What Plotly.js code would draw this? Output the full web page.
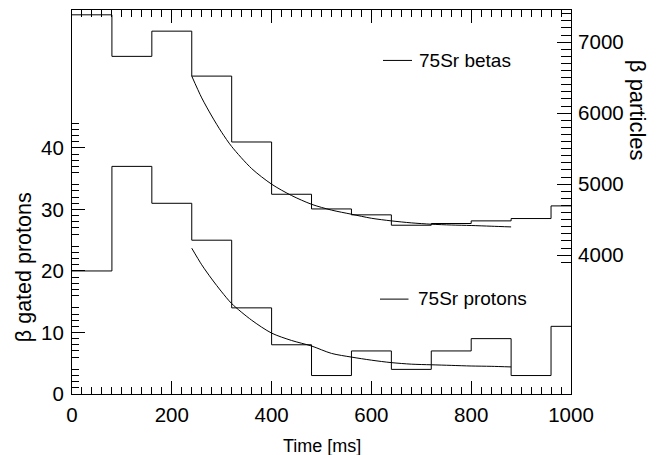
<!DOCTYPE html>
<html>
<head>
<meta charset="utf-8">
<script src="https://cdn.plot.ly/plotly-3.0.1.min.js"></script>
<style>html,body{margin:0;padding:0;background:#fff;}#chart{width:662px;height:455px;}</style>
</head>
<body>
<div id="chart"></div>
<script>
// ---- data ----
const binStarts = [0, 80, 160, 240, 320, 400, 480, 560, 640, 720, 800, 880, 960];
const binWidth = 80;
const protonCounts = [20, 37, 31, 25, 14, 8, 3, 7, 4, 7, 9, 3, 11];
const betaCounts = [7385, 6800, 7155, 6522, 5594, 4858, 4651, 4568, 4422, 4446, 4483, 4516, 4694];

const fitTimes = [240, 260, 280, 300, 320, 360, 400, 440, 480, 520, 560, 600, 640, 680, 720, 760, 800, 840, 880];
const protonFit = [23.7, 21.0, 18.7, 16.6, 14.7, 12.0, 9.9, 8.7, 7.8, 6.6, 6.0, 5.5, 5.1, 4.85, 4.75, 4.65, 4.55, 4.5, 4.4];
const betaFit = [6522, 6215, 5960, 5730, 5530, 5220, 5000, 4840, 4717, 4635, 4577, 4520, 4483, 4455, 4436, 4425, 4418, 4408, 4398];

const xTickVals = [0, 200, 400, 600, 800, 1000];
const leftTickVals = [0, 10, 20, 30, 40];
const rightTickVals = [4000, 5000, 6000, 7000];

const xTitle = 'Time [ms]';
const leftTitle = 'β gated protons';
const rightTitle = 'β particles';
const betaLabel = '75Sr betas';
const protonLabel = '75Sr protons';

// ---- build step outlines from bins ----
function steps(counts) {
  const xs = binStarts.concat([binStarts[binStarts.length - 1] + binWidth]);
  const ys = counts.concat([counts[counts.length - 1]]);
  return {x: xs, y: ys};
}
const pSteps = steps(protonCounts);
const bSteps = steps(betaCounts);

function range(a, b, s, skip) {
  const out = [];
  for (let v = a; v <= b + 1e-9; v += s) {
    if (!skip || Math.abs(v % skip) > 1e-9) out.push(v);
  }
  return out;
}

const FONT = 'Liberation Sans, Arial, Helvetica, sans-serif';

const traces = [
  {x: pSteps.x, y: pSteps.y, type: 'scatter', mode: 'lines', line: {shape: 'hv', color: '#000', width: 1}, xaxis: 'x', yaxis: 'y', name: 'protons hist', hoverinfo: 'skip'},
  {x: bSteps.x, y: bSteps.y, type: 'scatter', mode: 'lines', line: {shape: 'hv', color: '#000', width: 1}, xaxis: 'x', yaxis: 'y2', name: 'betas hist', hoverinfo: 'skip'},
  {x: fitTimes, y: protonFit, type: 'scatter', mode: 'lines', line: {shape: 'spline', smoothing: 0.8, color: '#000', width: 1}, xaxis: 'x', yaxis: 'y', name: protonLabel},
  {x: fitTimes, y: betaFit, type: 'scatter', mode: 'lines', line: {shape: 'spline', smoothing: 0.8, color: '#000', width: 1}, xaxis: 'x', yaxis: 'y2', name: betaLabel}
];

const L = 72, R = 571, T = 9.5, B = 394;
const px = v => (v - L) / (R - L);
const py = v => (B - v) / (B - T);

const layout = {
  width: 662, height: 455,
  margin: {l: L, r: 662 - R, t: T, b: 455 - B, pad: 0},
  paper_bgcolor: '#fff', plot_bgcolor: '#fff',
  showlegend: false,
  font: {family: FONT, color: '#000', size: 20.5},
  xaxis: {
    range: [0, 1000], showgrid: false, zeroline: false,
    showline: true, linecolor: '#000', linewidth: 1, mirror: 'ticks',
    ticks: 'inside', ticklen: 13, tickcolor: '#000', tickwidth: 1,
    tickmode: 'array', tickvals: xTickVals, ticktext: xTickVals.map(String),
    minor: {tickmode: 'array', tickvals: range(20, 980, 20, 200), ticks: 'inside', ticklen: 7, tickcolor: '#000', tickwidth: 1, showgrid: false},
    tickfont: {family: FONT, size: 20.5, color: '#000'},
    ticklabelstandoff: 2
  },
  yaxis: {
    range: [0, (B - T) / 6.16], showgrid: false, zeroline: false,
    showline: true, linecolor: '#000', linewidth: 1,
    ticks: 'inside', ticklen: 13, tickcolor: '#000', tickwidth: 1,
    tickmode: 'array', tickvals: leftTickVals, ticktext: leftTickVals.map(String),
    minor: {tickmode: 'array', tickvals: range(1, 45, 1, 5), ticks: 'inside', ticklen: 7, tickcolor: '#000', tickwidth: 1, showgrid: false},
    tickfont: {family: FONT, size: 20.5, color: '#000'},
    ticklabelstandoff: 3
  },
  yaxis3: {
    overlaying: 'y', matches: 'y', side: 'left', showgrid: false, zeroline: false, showline: false,
    ticks: 'inside', ticklen: 10, tickcolor: '#000', tickwidth: 1,
    tickmode: 'array', tickvals: [5, 15, 25, 35, 45], showticklabels: false
  },
  yaxis2: {
    overlaying: 'y', side: 'right',
    range: [4000 - (B - 255) / 0.0711, 7000 + (41.7 - T) / 0.0711], showgrid: false, zeroline: false,
    showline: true, linecolor: '#000', linewidth: 1,
    ticks: 'inside', ticklen: 14, tickcolor: '#000', tickwidth: 1,
    tickmode: 'array', tickvals: rightTickVals, ticktext: rightTickVals.map(String),
    minor: {tickmode: 'array', tickvals: range(3900, 7400, 100, 1000), ticks: 'inside', ticklen: 10, tickcolor: '#000', tickwidth: 1, showgrid: false},
    tickfont: {family: FONT, size: 20.5, color: '#000'},
    ticklabelstandoff: 2
  },
  annotations: [
    {text: xTitle, xref: 'paper', yref: 'paper', x: px(322), y: py(446), xanchor: 'center', yanchor: 'middle', showarrow: false, font: {family: FONT, size: 18, color: '#000'}},
    {text: leftTitle, xref: 'paper', yref: 'paper', x: px(24), y: py(267), xanchor: 'center', yanchor: 'middle', textangle: -90, showarrow: false, font: {family: FONT, size: 21.5, color: '#000'}},
    {text: rightTitle, xref: 'paper', yref: 'paper', x: px(637.5), y: py(110), xanchor: 'center', yanchor: 'middle', textangle: 90, showarrow: false, font: {family: FONT, size: 22, color: '#000'}},
    {text: betaLabel, xref: 'paper', yref: 'paper', x: px(416.5), y: py(60), xanchor: 'left', yanchor: 'middle', showarrow: false, font: {family: FONT, size: 19, color: '#000'}},
    {text: protonLabel, xref: 'paper', yref: 'paper', x: px(415.5), y: py(298.5), xanchor: 'left', yanchor: 'middle', showarrow: false, font: {family: FONT, size: 19, color: '#000'}}
  ],
  shapes: [
    {type: 'line', xref: 'paper', yref: 'paper', x0: px(383), x1: px(412), y0: py(60), y1: py(60), line: {color: '#000', width: 1}},
    {type: 'line', xref: 'paper', yref: 'paper', x0: px(380), x1: px(408.5), y0: py(299), y1: py(299), line: {color: '#000', width: 1}}
  ]
};

Plotly.newPlot('chart', traces, layout, {staticPlot: true, displayModeBar: false});
</script>
</body>
</html>
